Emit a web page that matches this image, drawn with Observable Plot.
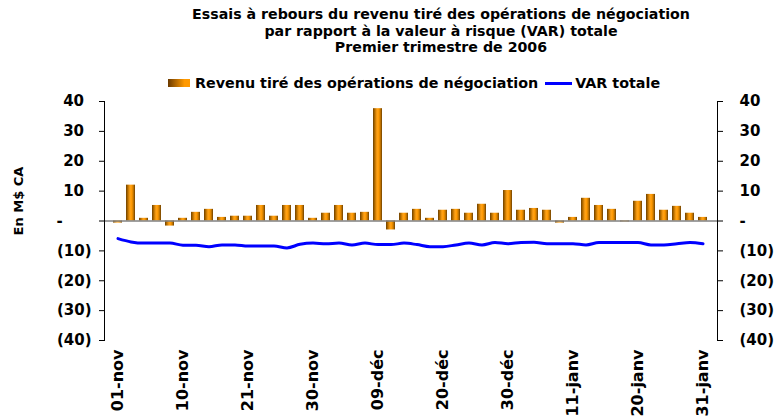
<!DOCTYPE html>
<html><head><meta charset="utf-8">
<script src="https://cdn.jsdelivr.net/npm/d3@7"></script>
<script src="https://cdn.jsdelivr.net/npm/@observablehq/plot@0.6"></script>
<style>
body{margin:0;background:#fff;}
#wrap{position:relative;width:776px;height:419px;overflow:hidden;font-family:"DejaVu Sans",Verdana,sans-serif;font-weight:bold;color:#000;background:#fff;}
#title{position:absolute;left:141px;width:600px;top:6px;text-align:center;font-size:14.2px;line-height:16.7px;white-space:nowrap;}
#legend{position:absolute;left:168px;top:75px;display:flex;align-items:center;font-size:14.3px;line-height:16.7px;white-space:nowrap;}
.sw{width:22px;height:8px;background:linear-gradient(to right,#6b3a00,#ff9900 75%,#ff9900);margin-right:5px;}
.ln{width:27px;height:3px;background:#0000ff;margin-left:7px;margin-right:3px;}
#chart{position:absolute;left:0;top:92px;}
</style></head>
<body>
<div id="wrap">
  <div id="title">Essais à rebours du revenu tiré des opérations de négociation<br>par rapport à la valeur à risque (VAR) totale<br>Premier trimestre de 2006</div>
  <div id="legend"><div class="sw"></div><span>Revenu tiré des opérations de négociation</span><div class="ln"></div><span>VAR totale</span></div>
  <div id="chart"></div>
</div>
<script>
const dates = [
  "01-nov","02-nov","03-nov","04-nov","07-nov",
  "10-nov","14-nov","15-nov","16-nov","17-nov",
  "21-nov","22-nov","23-nov","24-nov","28-nov",
  "30-nov","01-déc","02-déc","05-déc","06-déc",
  "09-déc","12-déc","13-déc","14-déc","15-déc",
  "20-déc","21-déc","22-déc","23-déc","28-déc",
  "30-déc","03-janv","04-janv","05-janv","06-janv",
  "11-janv","12-janv","13-janv","16-janv","17-janv",
  "20-janv","23-janv","24-janv","25-janv","26-janv",
  "31-janv"
];
const revenue = [
  -0.7, 12, 0.9, 5.2, -1.7,
  0.9, 2.9, 3.9, 1.2, 1.6,
  1.6, 5.2, 1.6, 5.2, 5.2,
  0.9, 2.6, 5.2, 2.6, 2.9,
  37.6, -3, 2.6, 3.9, 0.9,
  3.6, 3.9, 2.6, 5.6, 2.6,
  10.2, 3.6, 4.2, 3.6, -0.7,
  1.2, 7.6, 5.2, 3.9, -0.3,
  6.6, 8.9, 3.6, 4.9, 2.6,
  1.2
];
const varTotal = [
  -5.9, -7.0, -7.4, -7.4, -7.4,
  -8.1, -8.1, -8.6, -8.0, -8.0,
  -8.4, -8.4, -8.4, -9.0, -7.8,
  -7.4, -7.6, -7.4, -8.0, -7.4,
  -7.9, -7.9, -7.4, -7.9, -8.6,
  -8.6, -8.0, -7.4, -8.0, -7.2,
  -7.6, -7.2, -7.1, -7.6, -7.6,
  -7.6, -8.0, -7.2, -7.2, -7.2,
  -7.2, -8.0, -8.0, -7.6, -7.2,
  -7.6
];
const tickDates = ["01-nov","10-nov","21-nov","30-nov","09-déc","20-déc","30-déc","11-janv","20-janv","31-janv"];
const posTicks = [10, 20, 30, 40];
const zeroTicks = [0];
const negTicks = [-10, -20, -30, -40];
const allTicks = [-40, -30, -20, -10, 0, 10, 20, 30, 40];
const yTitle = "En M$ CA";

const data = dates.map((d, i) => ({date: d, rev: revenue[i], var: varTotal[i]}));
const fmt = v => v === 0 ? "-" : v < 0 ? `(${-v})` : `${v}`;

const chart = Plot.plot({
  width: 776, height: 327,
  marginTop: 9, marginBottom: 79, marginLeft: 104, marginRight: 59,
  style: {fontFamily: '"DejaVu Sans", Verdana, sans-serif', fontSize: "15px", fontWeight: "bold", color: "#000", background: "transparent", overflow: "visible"},
  x: {type: "band", domain: dates, paddingInner: 0.3, paddingOuter: 0.15},
  y: {domain: [-40, 40]},
  marks: [
    Plot.barY(data, {x: "date", y: "rev", fill: "url(#barGrad)"}),
    Plot.ruleY([0], {stroke: "#808080", strokeWidth: 1.5}),
    Plot.line(data, {x: "date", y: "var", stroke: "#0000ff", strokeWidth: 3, curve: "monotone-x"}),
    Plot.frame({anchor: "left", stroke: "#000"}),
    Plot.frame({anchor: "right", stroke: "#000"}),
    Plot.axisY(posTicks, {anchor: "left", tickSize: 5, tickPadding: 15.5, tickFormat: fmt, label: null}),
    Plot.axisY(negTicks, {anchor: "left", tickSize: 5, tickPadding: 8, tickFormat: fmt, label: null}),
    Plot.axisY(zeroTicks, {anchor: "left", tickSize: 5, tickPadding: 43, tickFormat: fmt, textAnchor: "start", label: null}),
    Plot.axisY(allTicks, {anchor: "right", tickSize: 5, tickPadding: 17, tickFormat: fmt, textAnchor: "start", label: null}),
    Plot.axisX(tickDates, {anchor: "bottom", tickSize: 0, tickPadding: 9, tickRotate: -90, fontSize: 16, label: null}),
    Plot.text([yTitle], {frameAnchor: "left", dx: -86, dy: -20, rotate: -90, fontSize: 13, textAnchor: "middle"})
  ]
});

const ns = "http://www.w3.org/2000/svg";
const defs = document.createElementNS(ns, "defs");
defs.innerHTML = `<linearGradient id="barGrad" x1="0" x2="1" y1="0" y2="0">
  <stop offset="0" stop-color="#6b3f00"/>
  <stop offset="0.25" stop-color="#c77800"/>
  <stop offset="0.45" stop-color="#ffa31a"/>
  <stop offset="0.65" stop-color="#ff9900"/>
  <stop offset="0.85" stop-color="#b86e00"/>
  <stop offset="1" stop-color="#6b3f00"/>
</linearGradient>`;
chart.insertBefore(defs, chart.firstChild);
document.getElementById("chart").appendChild(chart);
</script>
</body></html>
